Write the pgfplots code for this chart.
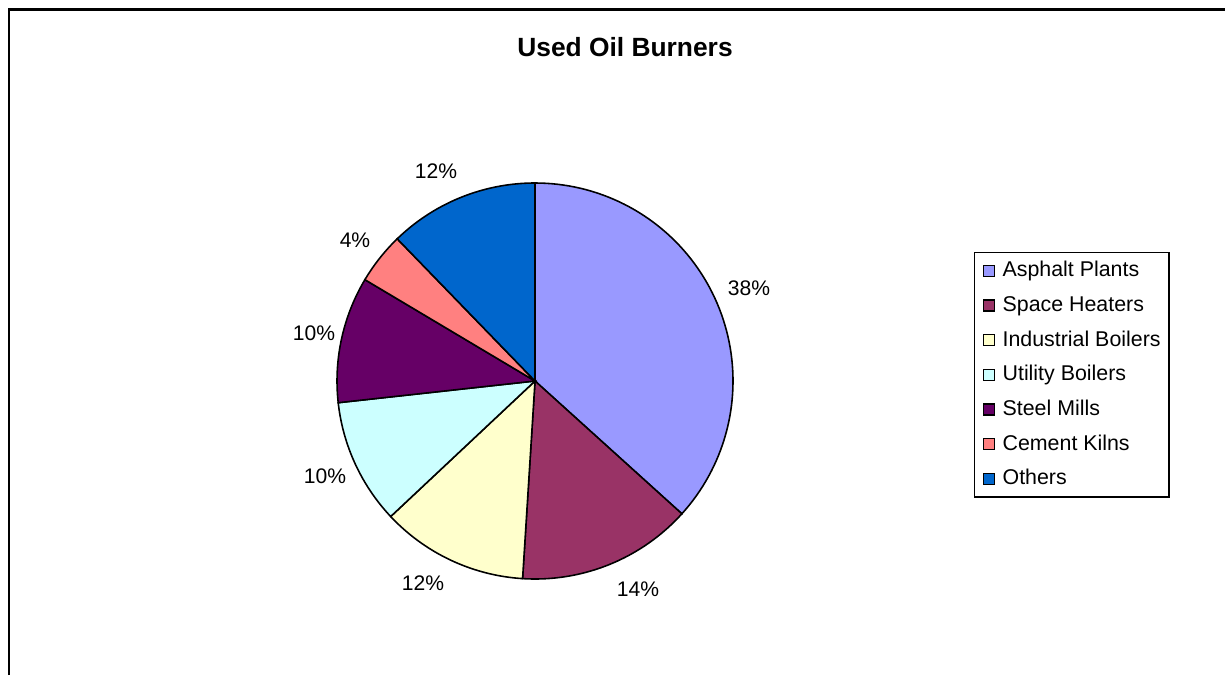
\documentclass[border=0pt]{standalone}
\usepackage{fontspec}
\setmainfont{Liberation Sans}
\usepackage{pgfplots}
\usepackage{pgfplotstable}
\pgfplotsset{compat=1.18}
\definecolor{cA}{HTML}{9999FF}
\definecolor{cB}{HTML}{993366}
\definecolor{cC}{HTML}{FFFFCC}
\definecolor{cD}{HTML}{CCFFFF}
\definecolor{cE}{HTML}{660066}
\definecolor{cF}{HTML}{FF8080}
\definecolor{cG}{HTML}{0066CC}
\pgfplotstableread{
name pct
Asphalt 36.7
Space 14.3
Industrial 12.0
Utility 10.25
Steel 10.3
Cement 4.2
Others 12.25
}\piedata
% cumulative angles (clockwise from 12 o'clock)
\def\cum{0}
\pgfplotsforeachungrouped \i in {0,...,6}{%
  \pgfplotstablegetelem{\i}{pct}\of\piedata
  \pgfmathsetmacro\sa{90-3.6*\cum}%
  \pgfmathsetmacro\cum{\cum+\pgfplotsretval}%
  \pgfmathsetmacro\sb{90-3.6*\cum}%
  \expandafter\xdef\csname sA\i\endcsname{\sa}%
  \expandafter\xdef\csname sB\i\endcsname{\sb}%
}
\begin{document}
\begin{tikzpicture}
\begin{axis}[
  name=ax,
  width=12.25cm, height=6.75cm, scale only axis,
  xmin=0, xmax=1225, ymin=0, ymax=675,
  hide axis, clip=false,
  legend cell align=left,
  legend style={at={(axis cs:973.5,423)}, anchor=north west,
    draw=black, line width=0.4pt, fill=white,
    font=\fontsize{6.08}{7}\selectfont,
    inner xsep=0.085cm, inner ysep=0.09cm,
    row sep=0.167cm,
    nodes={inner sep=0pt, text height=0.15cm, text depth=0.03cm},
    /tikz/every odd column/.append style={column sep=0.075cm}},
  legend image code/.code={\draw[#1,draw=black,line width=0.4pt] (0cm,-0.055cm) rectangle (0.11cm,0.055cm);},
]
\pgfplotsinvokeforeach{0,...,6}{%
  \pgfmathsetmacro\ca{\csname sA#1\endcsname}%
  \pgfmathsetmacro\cb{\csname sB#1\endcsname}%
  \edef\doplot{\noexpand\addplot[fill=\ifcase#1 cA\or cB\or cC\or cD\or cE\or cF\or cG\fi, draw=black, line width=0.45pt, domain=\cb:\ca, samples=80, variable=\noexpand\t]
    ({535+198*cos(\noexpand\t)},{294+198*sin(\noexpand\t)}) -- (axis cs:535,294) -- cycle;}%
  \doplot
}
\legend{Asphalt Plants,Space Heaters,Industrial Boilers,Utility Boilers,Steel Mills,Cement Kilns,Others}
% frame
\draw[black, line width=0.7pt] (axis cs:9,0) -- (axis cs:9,665.5) -- (axis cs:1225,665.5);
% title
\node[font=\fontsize{7.5}{8.5}\selectfont\bfseries] at (axis cs:625,628) {Used Oil Burners};
% percentage labels
\begin{scope}[every node/.style={font=\fontsize{6}{7}\selectfont}]
\node at (axis cs:749,387) {38\%};
\node at (axis cs:638,86) {14\%};
\node at (axis cs:423,92) {12\%};
\node at (axis cs:325,199) {10\%};
\node at (axis cs:314,342) {10\%};
\node at (axis cs:355,435) {4\%};
\node at (axis cs:436,504) {12\%};
\end{scope}
\end{axis}
\pgfresetboundingbox
\path[use as bounding box] (ax.south west) rectangle (ax.north east);
\end{tikzpicture}
\end{document}
